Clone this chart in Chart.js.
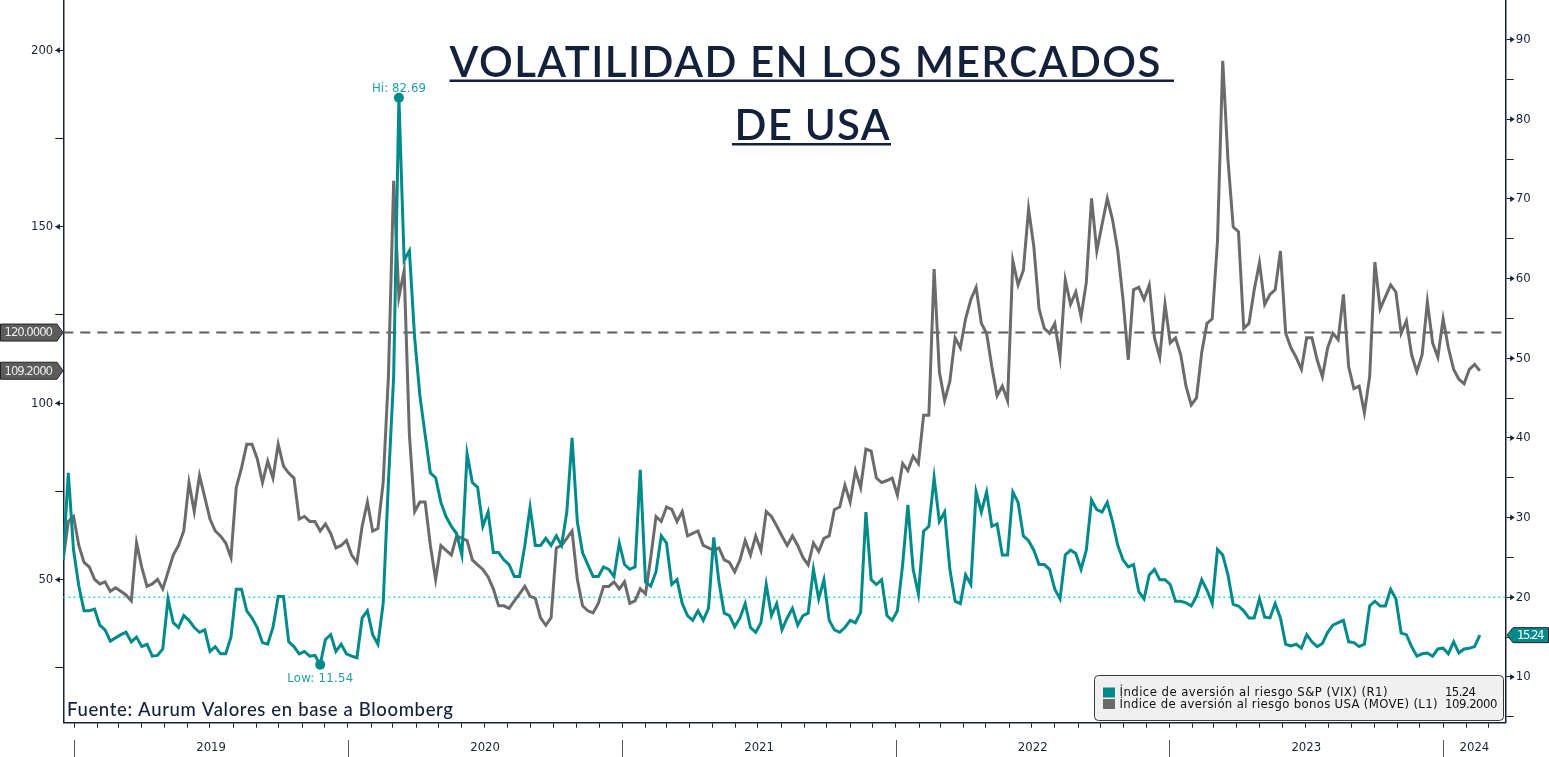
<!DOCTYPE html>
<html>
<head>
<meta charset="utf-8">
<script src="https://cdn.jsdelivr.net/npm/chart.js@4.4.1/dist/chart.umd.min.js"></script>
<style>
html, body { margin: 0; padding: 0; background: #ffffff; }
#wrap { width: 1549px; height: 757px; }
</style>
</head>
<body>
<div id="wrap"><canvas id="chart" width="1549" height="757"></canvas></div>
<script>
const sansFamily = "'DejaVu Sans Condensed', 'Liberation Sans', sans-serif";
Chart.defaults.font.family = sansFamily;
Chart.defaults.font.size = 13;
Chart.defaults.color = '#1b2235';

// weekly observations, starting on this date
const firstWeek = '2018-12-17';

// VIX (right axis)
const vixValues = [
    24.7, 35.6, 25.9, 21.4, 18.3, 18.3, 18.5, 16.5, 15.9, 14.5,
    14.9, 15.3, 15.6, 14.4, 15.0, 13.8, 14.1, 12.6, 12.7, 13.5,
    19.8, 16.8, 16.2, 17.7, 17.1, 16.2, 15.6, 15.9, 13.2, 13.8,
    12.9, 12.9, 15.0, 21.0, 21.0, 18.3, 17.4, 16.2, 14.3, 14.1,
    16.2, 20.1, 20.1, 14.4, 13.8, 12.9, 13.2, 12.6, 12.7, 11.54,
    14.7, 15.3, 13.2, 14.1, 12.9, 12.6, 12.4, 17.4, 18.3, 15.3,
    14.1, 19.2, 34.4, 47.7, 82.69, 62.3, 63.5, 52.6, 45.3, 40.4,
    35.6, 35.0, 31.9, 30.1, 28.9, 28.0, 25.3, 38.0, 34.4, 33.8,
    28.9, 30.7, 25.6, 25.6, 24.7, 24.1, 22.6, 22.6, 26.5, 31.3,
    26.5, 26.5, 27.4, 26.5, 27.7, 26.5, 30.7, 40.0, 29.5, 25.6,
    24.1, 22.6, 22.6, 23.8, 23.5, 22.6, 26.8, 24.1, 23.5, 23.8,
    36.0, 21.9, 21.4, 23.2, 27.7, 26.8, 21.6, 22.2, 19.2, 17.7,
    17.1, 18.3, 17.1, 18.6, 27.5, 21.9, 18.0, 17.7, 16.3, 17.4,
    19.2, 16.2, 15.6, 16.8, 21.6, 17.7, 19.2, 15.9, 17.4, 18.6,
    16.5, 17.7, 18.0, 23.5, 19.8, 22.2, 17.1, 15.9, 15.6, 16.2,
    17.1, 16.8, 18.1, 30.7, 22.2, 21.6, 22.2, 17.7, 17.1, 18.3,
    24.1, 31.6, 23.5, 20.4, 28.3, 28.9, 35.0, 29.5, 30.7, 23.5,
    19.5, 19.2, 22.8, 21.6, 33.2, 30.7, 33.2, 28.9, 29.2, 25.3,
    25.3, 33.2, 31.9, 27.7, 27.1, 25.9, 24.1, 24.1, 23.5, 21.0,
    19.8, 25.3, 25.9, 25.5, 23.5, 25.9, 32.2, 31.0, 30.7, 31.9,
    29.5, 26.5, 24.7, 23.8, 24.1, 20.7, 19.8, 22.8, 23.5, 22.2,
    22.2, 21.6, 19.5, 19.5, 19.3, 18.9, 20.1, 22.2, 20.9, 19.2,
    26.0, 25.3, 22.8, 19.1, 18.9, 18.3, 17.4, 17.4, 19.8, 17.5,
    17.4, 19.2, 17.4, 14.1, 13.9, 14.1, 13.6, 15.3, 14.4, 13.8,
    14.2, 15.6, 16.5, 16.8, 17.1, 14.4, 14.3, 13.8, 14.1, 18.9,
    19.5, 18.9, 18.9, 21.0, 19.8, 15.5, 15.3, 13.8, 12.6, 12.9,
    13.0, 12.6, 13.5, 13.6, 12.9, 14.4, 13.0, 13.5, 13.6, 13.8,
    15.24
];

// MOVE (left axis)
const moveValues = [
    55.6, 66.5, 67.9, 59.7, 54.9, 53.6, 50.1, 48.8, 49.4, 46.7,
    47.7, 46.7, 45.7, 44.0, 60.4, 53.5, 48.1, 48.8, 50.1, 47.4,
    52.2, 57.0, 59.7, 63.8, 77.5, 69.3, 79.5, 73.4, 67.2, 63.8,
    62.4, 60.4, 56.3, 76.1, 81.6, 88.4, 88.4, 84.3, 77.5, 83.6,
    78.8, 88.4, 82.2, 80.2, 78.8, 67.2, 67.9, 66.5, 66.5, 63.8,
    65.8, 63.1, 59.0, 59.7, 61.1, 57.0, 54.9, 65.2, 72.0, 63.8,
    64.5, 77.5, 107.5, 163.0, 130.0, 137.6, 91.1, 69.3, 72.0, 72.0,
    59.7, 50.1, 59.7, 58.3, 57.0, 62.4, 61.7, 61.1, 55.6, 54.2,
    52.9, 50.8, 47.4, 42.6, 42.6, 41.9, 44.0, 46.0, 48.1, 45.3,
    44.7, 39.2, 37.1, 39.2, 59.0, 59.7, 61.7, 63.8, 50.1, 42.6,
    41.2, 40.6, 43.3, 48.1, 48.1, 49.4, 47.4, 49.4, 43.3, 44.0,
    47.4, 46.0, 56.3, 67.9, 66.5, 70.6, 69.9, 66.5, 69.3, 62.4,
    63.1, 63.8, 59.7, 59.0, 58.3, 59.0, 55.6, 54.9, 52.2, 55.6,
    61.1, 57.0, 62.4, 58.3, 69.3, 67.9, 65.2, 62.4, 59.7, 62.4,
    59.7, 56.3, 54.2, 60.4, 58.0, 61.7, 62.4, 69.9, 70.6, 76.8,
    72.0, 80.9, 76.1, 87.0, 86.4, 78.8, 77.5, 78.1, 78.8, 74.0,
    82.9, 80.9, 85.0, 82.9, 96.6, 96.6, 138.0, 108.9, 100.7, 106.2,
    118.5, 115.7, 123.9, 129.4, 132.8, 122.6, 119.8, 110.3, 102.1, 104.8,
    100.7, 140.3, 133.5, 137.6, 155.0, 144.4, 126.7, 121.2, 119.8, 122.6,
    113.0, 134.9, 128.0, 131.5, 124.5, 134.2, 158.0, 143.1, 150.6, 158.0,
    152.0, 143.1, 129.4, 112.3, 132.1, 132.8, 129.4, 133.5, 118.5, 113.0,
    128.0, 117.1, 118.5, 113.7, 104.8, 99.5, 101.5, 114.4, 122.6, 123.9,
    145.8, 197.0, 169.0, 149.9, 148.6, 121.2, 122.6, 132.1, 139.7, 128.0,
    130.8, 132.1, 143.1, 119.8, 115.7, 113.0, 109.6, 118.5, 118.5, 112.3,
    107.5, 115.7, 119.8, 118.0, 130.8, 110.3, 104.1, 104.8, 97.3, 107.5,
    140.0, 126.7, 130.1, 133.5, 131.5, 119.8, 123.3, 113.7, 108.9, 113.7,
    128.7, 117.1, 113.0, 123.9, 115.7, 109.6, 106.8, 105.5, 109.6, 111.0,
    109.2
];

const leftTicks = [25, 50, 75, 100, 125, 150, 175, 200];
const leftLabelled = [50, 100, 150, 200];
const rightTicks = [5, 10, 15, 20, 25, 30, 35, 40, 45, 50, 55, 60, 65, 70, 75, 80, 85, 90];
const rightLabelled = [10, 20, 30, 40, 50, 60, 70, 80, 90];
const years = [2019, 2020, 2021, 2022, 2023, 2024];

const moveRef = 120;       // dashed level, left axis
const moveTag = '120.0000';
const moveLastTag = '109.2000';
const vixRef = 20;         // dotted level, right axis
const vixLastTag = '15.24';

const vixLabel = 'Índice de aversión al riesgo S&P (VIX) (R1)';
const moveLabel = 'Índice de aversión al riesgo bonos USA (MOVE) (L1)';
const titleLines = ['VOLATILIDAD EN LOS MERCADOS', 'DE USA'];
const sourceText = 'Fuente: Aurum Valores en base a Bloomberg';

const teal = '#008b8a';
const gray = '#6b6b6b';
const navy = '#14213a';

// day numbers counted from 1 Jan 2019
const dayZero = Date.parse('2019-01-01');
function dayOf(y, m, d) { return (Date.UTC(y, m, d) - dayZero) / 86400000; }
const startDay = (Date.parse(firstWeek) - dayZero) / 86400000;
const weekDays = vixValues.map((_, i) => startDay + 7 * i);
const xMin = -14.7, xMax = 1909.5;

const vixPoints = weekDays.map((d, i) => ({ x: d, y: vixValues[i] }));
const movePoints = weekDays.map((d, i) => ({ x: d, y: moveValues[i] }));
const hiIndex = vixValues.indexOf(Math.max(...vixValues));
const lowIndex = vixValues.indexOf(Math.min(...vixValues));

const monthTicks = [];
for (let y = 2018; y <= 2024; y++) {
    for (let m = 0; m < 12; m++) {
        const d = dayOf(y, m, 1);
        if (d >= xMin && d <= xMax) monthTicks.push(d);
    }
}

// draws text left-aligned at x, stretched or squeezed to the given width
function fitText(ctx, text, x, y, width) {
    ctx.letterSpacing = '0px';
    const w0 = ctx.measureText(text).width;
    ctx.letterSpacing = ((width - w0) / (text.length - 1)) + 'px';
    ctx.textAlign = 'left';
    ctx.fillText(text, x, y);
    ctx.letterSpacing = '0px';
}

function tag(ctx, x0, x1, tip, y, h, fill, text, textColor) {
    ctx.beginPath();
    if (tip > x1) {
        ctx.moveTo(x0, y - h / 2); ctx.lineTo(x1, y - h / 2); ctx.lineTo(tip, y);
        ctx.lineTo(x1, y + h / 2); ctx.lineTo(x0, y + h / 2);
    } else {
        ctx.moveTo(x1, y - h / 2); ctx.lineTo(x0, y - h / 2); ctx.lineTo(tip, y);
        ctx.lineTo(x0, y + h / 2); ctx.lineTo(x1, y + h / 2);
    }
    ctx.closePath();
    ctx.fillStyle = fill; ctx.fill();
    ctx.strokeStyle = '#222'; ctx.lineWidth = 1; ctx.stroke();
    ctx.fillStyle = textColor;
    ctx.font = '13px ' + sansFamily;
    ctx.textBaseline = 'middle';
    fitText(ctx, text, x0 + 4, y + 0.5, x1 - x0 - 8);
}

const decor = {
    id: 'decor',
    beforeDatasetsDraw(chart) {
        const { ctx, chartArea: a, scales } = chart;
        ctx.save();
        const y1 = scales.yL.getPixelForValue(moveRef);
        ctx.strokeStyle = '#5e5e5e'; ctx.lineWidth = 2; ctx.setLineDash([10, 7]);
        ctx.beginPath(); ctx.moveTo(a.left, y1); ctx.lineTo(a.right, y1); ctx.stroke();
        const y2 = scales.yR.getPixelForValue(vixRef);
        ctx.strokeStyle = '#3ad6d6'; ctx.lineWidth = 1.5; ctx.setLineDash([2, 3]);
        ctx.beginPath(); ctx.moveTo(a.left, y2); ctx.lineTo(a.right, y2); ctx.stroke();
        ctx.restore();
    },
    afterDraw(chart) {
        const { ctx, chartArea: a, scales } = chart;
        ctx.save();

        // small arrow heads on labelled ticks
        ctx.fillStyle = navy;
        leftLabelled.forEach(v => {
            const y = scales.yL.getPixelForValue(v);
            ctx.beginPath(); ctx.moveTo(a.left - 8, y); ctx.lineTo(a.left - 3.5, y - 3); ctx.lineTo(a.left - 3.5, y + 3); ctx.fill();
        });
        rightLabelled.forEach(v => {
            const y = scales.yR.getPixelForValue(v);
            ctx.beginPath(); ctx.moveTo(a.right + 9, y); ctx.lineTo(a.right + 4.5, y - 3); ctx.lineTo(a.right + 4.5, y + 3); ctx.fill();
        });

        // years: separators and centred labels
        ctx.strokeStyle = '#555'; ctx.lineWidth = 1;
        ctx.font = Chart.defaults.font.size + 'px ' + sansFamily;
        ctx.fillStyle = '#1b2235'; ctx.textAlign = 'center'; ctx.textBaseline = 'middle';
        years.forEach(yr => {
            const s = dayOf(yr, 0, 1), e = dayOf(yr + 1, 0, 1);
            const xs = Math.round(scales.x.getPixelForValue(s)) + 0.5;
            ctx.beginPath(); ctx.moveTo(xs, 740); ctx.lineTo(xs, 757); ctx.stroke();
            const xc = (scales.x.getPixelForValue(Math.max(s, xMin)) + scales.x.getPixelForValue(Math.min(e, xMax))) / 2;
            ctx.fillText(String(yr), xc, 748);
        });

        // hi / low notes
        const meta = chart.getDatasetMeta(0);
        const hi = meta.data[hiIndex], lo = meta.data[lowIndex];
        ctx.font = '13px ' + sansFamily;
        ctx.fillStyle = '#1f9ea3';
        ctx.textBaseline = 'alphabetic';
        const hiText = 'Hi: ' + vixValues[hiIndex].toFixed(2);
        const loText = 'Low: ' + vixValues[lowIndex].toFixed(2);
        fitText(ctx, hiText, hi.x - 27, hi.y - 6, 54);
        fitText(ctx, loText, lo.x - 33, lo.y + 17, 66);

        // value tags
        tag(ctx, 0.5, 57, 63, scales.yL.getPixelForValue(moveRef), 17, '#5c5c5c', moveTag, '#ececec');
        tag(ctx, 0.5, 57, 63, scales.yL.getPixelForValue(moveValues[moveValues.length - 1]), 17, '#5c5c5c', moveLastTag, '#ececec');
        tag(ctx, 1513, 1548.5, 1507, scales.yR.getPixelForValue(vixValues[vixValues.length - 1]), 15, teal, vixLastTag, '#ffffff');

        // title
        ctx.fillStyle = navy; ctx.textBaseline = 'alphabetic';
        ctx.font = "600 42px Lato, 'Open Sans', sans-serif";
        fitText(ctx, titleLines[0], 449.5, 76.5, 711);
        fitText(ctx, titleLines[1], 734.5, 140, 155);
        ctx.fillRect(449.5, 79.5, 724.5, 2.5);
        ctx.fillRect(732, 143, 159, 2.5);

        // source
        ctx.font = "500 18.5px Lato, 'Open Sans', sans-serif";
        fitText(ctx, sourceText, 67, 716, 386);

        // legend
        ctx.beginPath();
        ctx.roundRect(1094.5, 675.5, 409, 45, 4);
        ctx.fillStyle = '#f0f0f0'; ctx.fill();
        ctx.strokeStyle = '#3a3a3a'; ctx.lineWidth = 1; ctx.stroke();
        const rows = [
            { c: teal, t: vixLabel, tw: 268, v: vixLastTag, vw: 31, y: 692.5 },
            { c: gray, t: moveLabel, tw: 318, v: moveLastTag, vw: 52.5, y: 704 }
        ];
        ctx.font = '13px ' + sansFamily;
        ctx.textBaseline = 'middle';
        rows.forEach(r => {
            ctx.fillStyle = r.c; ctx.fillRect(1103, r.y - 5, 12, 10);
            ctx.fillStyle = '#111';
            fitText(ctx, r.t, 1119.5, r.y + 0.5, r.tw);
            fitText(ctx, r.v, 1445, r.y + 0.5, r.vw);
        });

        ctx.restore();
    }
};

function fixWidth(w) {
    return s => { s.width = w; s.paddingTop = 0; s.paddingBottom = 0; };
}

new Chart(document.getElementById('chart'), {
    type: 'line',
    data: {
        datasets: [
            {
                label: vixLabel,
                data: vixPoints,
                yAxisID: 'yR',
                borderColor: teal,
                backgroundColor: teal,
                borderWidth: 3,
                pointRadius: c => (c.dataIndex === hiIndex || c.dataIndex === lowIndex) ? 5 : 0,
                pointBorderWidth: 0,
                pointBackgroundColor: teal,
                tension: 0
            },
            {
                label: moveLabel,
                data: movePoints,
                yAxisID: 'yL',
                borderColor: gray,
                backgroundColor: gray,
                borderWidth: 3,
                pointRadius: 0,
                tension: 0
            }
        ]
    },
    options: {
        responsive: false,
        animation: false,
        devicePixelRatio: 1,
        layout: { padding: 0 },
        plugins: { legend: { display: false }, tooltip: { enabled: false } },
        scales: {
            x: {
                type: 'linear',
                min: xMin,
                max: xMax,
                afterBuildTicks: s => { s.ticks = monthTicks.map(v => ({ value: v })); },
                afterFit: s => { s.height = 757 - 722.7; s.paddingLeft = 0; s.paddingRight = 0; },
                ticks: { autoSkip: false, maxRotation: 0, callback: () => '' },
                grid: { drawOnChartArea: false, tickLength: 5, color: navy },
                border: { color: navy, width: 1.5 }
            },
            yL: {
                position: 'left',
                min: 9.5,
                max: 214.2,
                afterBuildTicks: s => { s.ticks = leftTicks.map(v => ({ value: v })); },
                afterFit: fixWidth(63.3),
                ticks: {
                    autoSkip: false, padding: 2,
                    callback: v => leftLabelled.includes(v) ? String(v) : ''
                },
                grid: { drawOnChartArea: false, tickLength: 8, color: navy },
                border: { color: navy, width: 1.5 }
            },
            yR: {
                position: 'right',
                min: 4.25,
                max: 94.97,
                afterBuildTicks: s => { s.ticks = rightTicks.map(v => ({ value: v })); },
                afterFit: fixWidth(43.3),
                ticks: {
                    autoSkip: false, padding: 2,
                    callback: v => rightLabelled.includes(v) ? String(v) : ''
                },
                grid: { drawOnChartArea: false, tickLength: 8, color: navy },
                border: { color: navy, width: 1.5 }
            }
        }
    },
    plugins: [decor]
});
</script>
</body>
</html>
